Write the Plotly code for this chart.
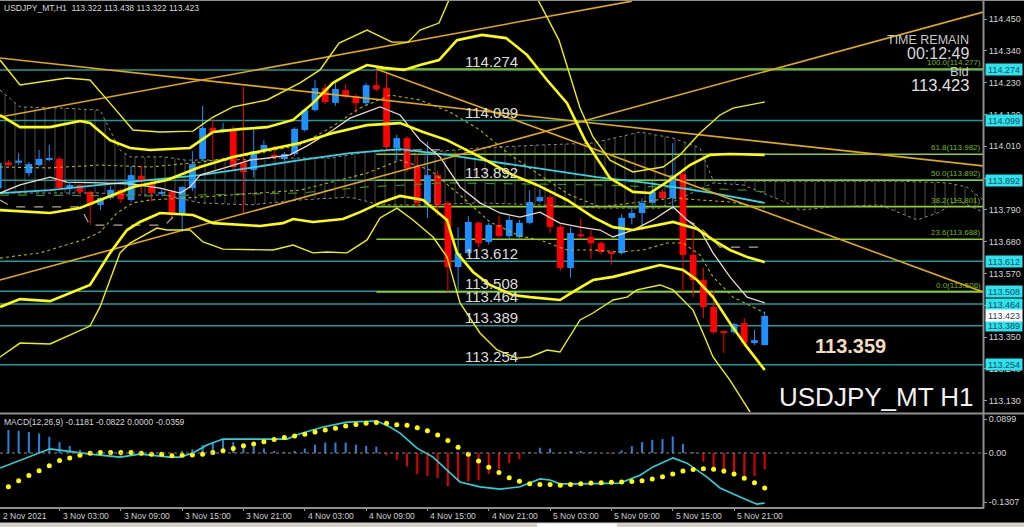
import plotly.graph_objects as go

W, H = 1024, 527

# ---------------- data ----------------
bar_idx = list(range(76))
opens = [113.865, 113.954, 113.953, 113.917, 113.945, 113.963, 113.966, 113.865, 113.876, 113.852,
         113.807, 113.831, 113.859, 113.824, 113.907, 113.883, 113.845, 113.852, 113.772, 113.865,
         113.966, 114.073, 114.063, 114.066, 113.952, 113.928, 113.993, 113.976, 113.966, 113.983,
         114.066, 114.135, 114.211, 114.160, 114.204, 114.183, 114.159, 114.221, 114.211, 114.004,
         114.038, 113.938, 113.814, 113.910, 113.814, 113.592, 113.640, 113.745, 113.679, 113.738,
         113.699, 113.696, 113.745, 113.820, 113.834, 113.731, 113.589, 113.705, 113.696, 113.675,
         113.644, 113.640, 113.762, 113.779, 113.814, 113.852, 113.831, 113.914, 113.634, 113.547,
         113.454, 113.370, 113.367, 113.398, 113.329, 113.322]
highs = [113.960, 113.962, 113.986, 113.955, 113.997, 114.014, 113.972, 113.882, 113.880, 113.855,
         113.835, 113.872, 113.862, 113.942, 113.942, 113.890, 113.860, 113.858, 113.872, 113.993,
         114.149, 114.105, 114.090, 114.080, 114.215, 114.073, 114.030, 114.010, 113.990, 114.075,
         114.140, 114.239, 114.225, 114.232, 114.225, 114.190, 114.228, 114.277, 114.267, 114.050,
         114.045, 113.985, 114.026, 113.925, 113.820, 113.730, 113.768, 113.750, 113.745, 113.770,
         113.768, 113.755, 113.858, 113.862, 113.840, 113.740, 113.730, 113.760, 113.718, 113.680,
         113.648, 113.775, 113.800, 113.830, 113.890, 113.860, 114.021, 113.918, 113.720, 113.590,
         113.510, 113.372, 113.400, 113.416, 113.375, 113.438]
lows = [113.850, 113.940, 113.945, 113.905, 113.940, 113.958, 113.860, 113.841, 113.845, 113.738,
        113.789, 113.825, 113.814, 113.818, 113.845, 113.820, 113.840, 113.755, 113.713, 113.855,
        113.960, 113.966, 114.055, 113.930, 113.779, 113.903, 113.985, 113.965, 113.960, 113.975,
        114.060, 114.130, 114.155, 114.150, 114.175, 114.125, 114.150, 114.200, 113.995, 113.960,
        113.920, 113.800, 113.762, 113.770, 113.506, 113.510, 113.630, 113.660, 113.670, 113.695,
        113.690, 113.690, 113.740, 113.815, 113.710, 113.580, 113.555, 113.690, 113.620, 113.635,
        113.600, 113.635, 113.740, 113.720, 113.805, 113.825, 113.790, 113.506, 113.488, 113.416,
        113.360, 113.295, 113.360, 113.317, 113.322, 113.322]
closes = [113.952, 113.948, 113.960, 113.948, 113.966, 113.968, 113.865, 113.876, 113.852, 113.807,
          113.831, 113.859, 113.827, 113.910, 113.890, 113.848, 113.852, 113.772, 113.869, 113.948,
          114.073, 114.059, 114.068, 113.938, 113.920, 113.993, 114.014, 113.973, 113.983, 114.070,
          114.135, 114.211, 114.163, 114.208, 114.183, 114.159, 114.221, 114.207, 114.007, 114.038,
          113.935, 113.814, 113.910, 113.807, 113.592, 113.640, 113.748, 113.675, 113.738, 113.699,
          113.755, 113.745, 113.817, 113.834, 113.731, 113.589, 113.710, 113.698, 113.675, 113.644,
          113.640, 113.762, 113.779, 113.814, 113.852, 113.831, 113.910, 113.634, 113.547, 113.454,
          113.367, 113.367, 113.395, 113.329, 113.339, 113.423]

xtick_idx = [0, 6, 12, 18, 24, 30, 36, 42, 48, 54, 60, 66, 72]
xtick_labels = ["2 Nov 2021", "3 Nov 03:00", "3 Nov 09:00", "3 Nov 15:00", "3 Nov 21:00",
                "4 Nov 03:00", "4 Nov 09:00", "4 Nov 15:00", "4 Nov 21:00", "5 Nov 03:00",
                "5 Nov 09:00", "5 Nov 15:00", "5 Nov 21:00"]
price_ticks = [114.450, 114.340, 114.230, 114.120, 114.010, 113.900, 113.790,
               113.680, 113.570, 113.460, 113.350, 113.240, 113.130]

level_lines = [114.274, 114.099, 113.892, 113.612, 113.508, 113.464, 113.389, 113.254]
fib_levels = [114.277, 113.982, 113.892, 113.801, 113.688, 113.506]
fib_names = ["100.0", "61.8", "50.0", "38.2", "23.6", "0.0"]
fib_start = 37
bid_price = 113.423
target_text = "113.359"

# trend lines (two end points each)
trend_a_x, trend_a_y = [0.18, 62.0], [114.111, 114.512]
trend_b_x, trend_b_y = [0.18, 96.36], [114.315, 113.942]
trend_c_x, trend_c_y = [0.18, 96.36], [113.547, 114.474]
trend_d_x, trend_d_y = [37.0, 96.36], [114.277, 113.506]

# Bollinger-type bands
bb2_up_x = [0.18, 2.13, 5.07, 8.0, 8.98, 10.94, 12.9, 14.85, 18.77, 21.02, 23.66, 26.3, 28.85, 30.8, 32.76, 34.42,
            36.09, 37.75, 39.71, 41.27, 43.13, 44.89, 47.34, 49.69, 51.74, 53.7, 55.66, 57.42, 59.86, 62.11,
            63.78, 65.73, 67.69, 69.65, 71.6, 75.0]
bb2_up_y = [114.118, 114.076, 114.076, 114.097, 114.090, 114.031, 114.004, 113.997, 114.004, 114.059, 114.069,
            114.076, 114.101, 114.159, 114.229, 114.263, 114.291, 114.281, 114.274, 114.291, 114.308, 114.377,
            114.395, 114.384, 114.326, 114.239, 114.159, 114.031, 113.900, 113.852, 113.848, 113.893, 113.945,
            113.980, 113.983, 113.980]
bb3_up_x = [0.18, 2.13, 6.73, 8.98, 10.94, 13.19, 15.83, 19.06, 21.02, 22.97, 26.3, 29.53, 31.49, 33.35, 36.09,
            38.53, 40.1, 41.27, 43.13, 44.11, 48.12, 52.82, 54.87, 56.05, 56.93, 58.2, 59.86, 62.11, 65.05,
            66.71, 68.67, 70.63, 71.9, 75.0]
bb3_up_y = [114.308, 114.222, 114.246, 114.239, 114.159, 114.066, 114.059, 114.062, 114.111, 114.146, 114.170,
            114.229, 114.274, 114.367, 114.412, 114.370, 114.370, 114.412, 114.436, 114.516, 114.602, 114.516,
            114.377, 114.239, 114.142, 114.042, 113.962, 113.921, 113.938, 113.980, 114.056, 114.118, 114.142,
            114.163]
bb_mid_x = [0.18, 5.07, 8.0, 9.96, 13.19, 16.52, 19.75, 22.97, 29.53, 32.76, 36.09, 39.32, 41.57, 43.91, 47.14,
            50.37, 52.72, 55.66, 58.2, 60.16, 62.11, 66.03, 68.38, 69.94, 71.6, 73.27, 75.0]
bb_mid_y = [113.789, 113.779, 113.796, 113.824, 113.869, 113.893, 113.938, 113.973, 114.021, 114.056, 114.083,
            114.090, 114.059, 114.031, 113.973, 113.910, 113.876, 113.824, 113.765, 113.730, 113.720, 113.748,
            113.724, 113.686, 113.651, 113.627, 113.609]
bb2_lo_x = [0.18, 2.13, 5.07, 7.03, 8.98, 10.94, 12.6, 13.87, 15.83, 19.06, 21.02, 25.62, 27.87, 28.85, 30.8,
            33.74, 35.4, 37.36, 39.32, 41.57, 43.91, 44.89, 46.46, 48.12, 50.37, 52.04, 54.97, 56.24, 58.2,
            60.16, 62.11, 64.76, 67.01, 68.38, 69.94, 71.6, 73.27, 75.0]
bb2_lo_y = [113.454, 113.481, 113.474, 113.502, 113.530, 113.641, 113.720, 113.748, 113.779, 113.772, 113.744,
            113.734, 113.744, 113.758, 113.748, 113.758, 113.782, 113.814, 113.838, 113.824, 113.755, 113.641,
            113.575, 113.530, 113.495, 113.488, 113.478, 113.506, 113.547, 113.558, 113.575, 113.599, 113.582,
            113.547, 113.488, 113.398, 113.315, 113.236]
bb3_lo_x = [0.18, 2.13, 5.07, 7.03, 8.98, 9.96, 11.92, 12.9, 15.54, 16.52, 18.77, 20.04, 21.99, 26.89, 28.85,
            30.8, 32.17, 34.13, 36.09, 37.36, 39.02, 40.59, 42.55, 43.91, 45.19, 47.14, 48.81, 50.76, 52.04,
            53.7, 54.97, 56.93, 58.2, 60.16, 61.53, 62.51, 64.76, 66.03, 67.99, 68.96, 69.94, 71.6, 73.56, 75.0]
bb3_lo_y = [113.281, 113.329, 113.326, 113.357, 113.388, 113.454, 113.641, 113.675, 113.727, 113.720, 113.720,
            113.679, 113.654, 113.651, 113.668, 113.641, 113.644, 113.641, 113.686, 113.762, 113.796, 113.755,
            113.696, 113.627, 113.468, 113.364, 113.305, 113.277, 113.281, 113.305, 113.298, 113.409, 113.433,
            113.478, 113.488, 113.513, 113.530, 113.513, 113.443, 113.364, 113.281, 113.201, 113.091, 112.994]
bb1_up_x = [0.18, 5.07, 9.96, 14.85, 19.75, 24.64, 29.53, 32.47, 35.4, 38.34, 41.27, 44.21, 47.14, 50.08, 53.01,
            55.95, 58.89, 62.11, 66.03, 68.67, 71.6, 75.0]
bb1_up_y = [113.938, 113.935, 113.945, 113.938, 113.955, 113.980, 114.014, 114.073, 114.142, 114.187, 114.170,
            114.128, 114.066, 113.980, 113.910, 113.841, 113.800, 113.814, 113.831, 113.824, 113.817, 113.796]
bb1_lo_x = [0.18, 4.09, 8.3, 9.96, 11.62, 13.19, 14.85, 19.75, 29.53, 36.09, 39.32, 42.25, 45.19, 48.12, 51.06,
            53.01, 55.66, 58.2, 60.84, 63.09, 65.44, 67.01, 68.67, 69.94, 71.9, 75.0]
bb1_lo_y = [113.623, 113.641, 113.686, 113.713, 113.779, 113.814, 113.824, 113.834, 113.858, 113.917, 113.962,
            113.928, 113.841, 113.748, 113.699, 113.686, 113.651, 113.651, 113.644, 113.651, 113.675, 113.675,
            113.634, 113.558, 113.488, 113.433]

# moving averages
ma_fast_x = [0.18, 2.13, 5.07, 6.73, 9.96, 13.19, 15.83, 17.79, 18.77, 19.75, 22.39, 24.64, 26.3, 28.55, 30.22,
             32.76, 34.42, 36.09, 37.36, 39.32, 41.27, 43.23, 45.19, 47.14, 49.1, 51.06, 53.01, 54.97, 56.93,
             58.89, 60.16, 62.11, 64.07, 66.03, 67.4, 68.67, 69.94, 71.6, 73.27, 75.0]
ma_fast_y = [113.848, 113.876, 113.903, 113.886, 113.883, 113.879, 113.865, 113.848, 113.869, 113.910, 113.938,
             113.962, 113.969, 113.980, 114.011, 114.066, 114.107, 114.128, 114.146, 114.118, 114.031, 113.973,
             113.869, 113.814, 113.779, 113.765, 113.782, 113.744, 113.730, 113.720, 113.696, 113.720, 113.755,
             113.800, 113.755, 113.720, 113.641, 113.558, 113.488, 113.468]
ma_slow_x = [0.18, 5.07, 9.96, 14.85, 19.75, 24.64, 29.53, 34.42, 39.32, 43.91, 48.81, 53.7, 58.59, 63.48,
             69.94, 75.0]
ma_slow_y = [113.848, 113.858, 113.876, 113.893, 113.910, 113.935, 113.962, 113.986, 114.000, 113.980, 113.955,
             113.928, 113.903, 113.883, 113.848, 113.814]

# Ichimoku-style cloud / lines
span_a_x = [0.18, 2.13, 6.05, 9.96, 11.92, 12.9, 16.32, 18.28, 22.68, 27.57, 32.47, 37.36, 42.25, 47.14, 53.01,
            58.2, 62.8, 66.03, 68.67, 69.94, 74.54, 80.41, 88.24, 92.84, 94.8, 96.36]
span_a_y = [114.204, 114.146, 114.142, 114.135, 113.997, 113.973, 113.973, 113.962, 113.962, 113.969, 113.969,
            113.997, 113.990, 114.004, 114.014, 114.021, 114.059, 114.038, 114.004, 113.893, 113.889, 113.889,
            113.889, 113.883, 113.869, 113.824]
span_b_x = [0.18, 6.05, 9.96, 12.9, 16.32, 19.75, 24.64, 29.53, 34.42, 37.36, 42.25, 47.14, 53.01, 58.89, 64.76,
            69.94, 72.88, 77.18, 78.45, 81.68, 86.28, 89.9, 92.15, 93.82, 96.36]
span_b_y = [113.848, 113.848, 113.848, 113.841, 113.841, 113.814, 113.807, 113.824, 113.834, 113.807, 113.807,
            113.814, 113.807, 113.796, 113.796, 113.883, 113.876, 113.814, 113.789, 113.800, 113.807, 113.755,
            113.782, 113.824, 113.782]
senkou_x = [0.18, 14.85, 29.53, 36.09, 43.91, 58.89, 73.27, 75.0]
senkou_y = [113.841, 113.838, 113.848, 113.869, 113.883, 113.876, 113.858, 113.852]
kijun_x = [0.18, 1.35, 8.0, 8.98, 16.32, 17.59, None, 40.59, 43.23, None, 67.4, 68.67, 70.63, 74.83]
kijun_y = [113.824, 113.800, 113.800, 113.737, 113.737, 113.782, None, 113.997, 113.997, None, 113.755, 113.730,
           113.661, 113.661]

# MACD pane
macd_idx = list(range(1, 76))
osma = [0.061, 0.059, 0.056, 0.052, 0.043, 0.029, 0.019, 0.008, 0.002, -0.008,
        -0.006, -0.008, 0.002, 0.001, -0.001, 0.001, -0.002, 0.003, 0.010, 0.021,
        0.029, 0.037, 0.029, 0.021, 0.017, 0.012, 0.005, 0.001, 0.005, 0.012,
        0.022, 0.028, 0.028, 0.028, 0.022, 0.019, 0.017, -0.006, -0.018, -0.036,
        -0.056, -0.061, -0.067, -0.088, -0.076, -0.076, -0.072, -0.056, -0.043, -0.027,
        -0.016, 0.002, 0.014, 0.012, 0.001, 0.003, 0.003, 0.001, 0.000, -0.002,
        0.007, 0.018, 0.029, 0.035, 0.037, 0.044, 0.024, 0.002, -0.023, -0.043,
        -0.056, -0.062, -0.061, -0.061, -0.043]
signal = [-0.090, -0.074, -0.060, -0.047, -0.034, -0.020, -0.013, -0.006, -0.001, 0.001,
          0.001, 0.001, 0.001, -0.001, -0.003, -0.003, -0.007, -0.006, -0.005, -0.003,
          0.001, 0.006, 0.012, 0.019, 0.024, 0.030, 0.036, 0.041, 0.045, 0.050,
          0.056, 0.061, 0.066, 0.072, 0.076, 0.079, 0.081, 0.079, 0.075, 0.074,
          0.067, 0.059, 0.048, 0.033, 0.015, -0.003, -0.021, -0.038, -0.052, -0.066,
          -0.075, -0.082, -0.084, -0.084, -0.086, -0.084, -0.082, -0.080, -0.079, -0.078,
          -0.077, -0.076, -0.074, -0.069, -0.063, -0.056, -0.048, -0.044, -0.042, -0.043,
          -0.048, -0.056, -0.067, -0.079, -0.093]
macd_line_x = [0.18, 2.13, 5.07, 6.73, 8.98, 11.92, 13.87, 16.81, 17.79, 19.06, 20.43, 21.99, 23.66, 25.62,
               28.26, 29.53, 31.78, 34.13, 37.06, 38.34, 39.32, 40.98, 42.55, 44.21, 45.19, 47.14, 49.1, 51.06,
               53.01, 53.99, 54.97, 56.93, 60.84, 62.8, 64.07, 66.03, 67.4, 69.36, 70.63, 72.59, 74.25, 75.0]
macd_line_y = [-0.040, -0.019, 0.011, 0.005, -0.003, -0.011, -0.003, -0.011, -0.011, 0.000, 0.021, 0.037,
               0.037, 0.035, 0.037, 0.051, 0.069, 0.082, 0.085, 0.069, 0.053, 0.013, -0.011, -0.053, -0.077,
               -0.090, -0.096, -0.090, -0.069, -0.072, -0.082, -0.082, -0.080, -0.059, -0.037, -0.013, -0.027,
               -0.064, -0.093, -0.117, -0.136, -0.133]
macd_ticks = [0.0899, 0.0, -0.1307]
macd_tick_text = ["0.0899", "0.00", "-0.1307"]
header_text = "USDJPY_MT,H1  113.322 113.438 113.322 113.423"
macd_text = "MACD(12,26,9) -0.1181 -0.0822 0.0000 -0.0359"

# ---------------- layout constants ----------------
FONT = "Liberation Sans"
X_RANGE = [0.176, 96.36]
PLOT_R = 983 / W
def py(p):  # pixel row -> paper y
    return 1 - p / H

fig = go.Figure()
NOHOV = dict(hoverinfo="skip", showlegend=False)

# cloud
fig.add_trace(go.Scatter(x=span_a_x, y=span_a_y, mode="lines",
                         line=dict(color="#8c8c8c", width=1, dash="dot"), **NOHOV))
fig.add_trace(go.Scatter(x=span_b_x, y=span_b_y, mode="lines",
                         line=dict(color="#8c8c8c", width=1, dash="dot"),
                         fill="tonexty", fillcolor="rgba(0,0,0,0)",
                         fillpattern=dict(shape="|", fgcolor="#8a8a8a", bgcolor="rgba(0,0,0,0)",
                                          size=10, solidity=0.1, fgopacity=0.55), **NOHOV))

# candles
BULL, BEAR = "#1E90FF", "#FF0000"
bull = [i for i in bar_idx if closes[i] >= opens[i]]
bear = [i for i in bar_idx if closes[i] < opens[i]]
for ids, col in ((bull, BULL), (bear, BEAR)):
    wx, wy = [], []
    for i in ids:
        wx += [i, i, None]
        wy += [lows[i], highs[i], None]
    fig.add_trace(go.Scatter(x=wx, y=wy, mode="lines", line=dict(color=col, width=1), **NOHOV))
    fig.add_trace(go.Bar(x=ids, y=[max(abs(closes[i] - opens[i]), 0.0035) for i in ids],
                         base=[min(opens[i], closes[i]) for i in ids], width=0.66,
                         marker=dict(color=col, line=dict(width=0)), **NOHOV))

# indicator lines
def line(x, y, color, width, dash="solid"):
    fig.add_trace(go.Scatter(x=x, y=y, mode="lines", line=dict(color=color, width=width, dash=dash),
                             connectgaps=False, **NOHOV))

line(kijun_x, kijun_y, "#b8a896", 1.2, "dash")
line(senkou_x, senkou_y, "#3f8f10", 1.2, "dash")
line(bb1_up_x, bb1_up_y, "#b5b500", 1.1, "dot")
line(bb1_lo_x, bb1_lo_y, "#b5b500", 1.1, "dot")
line(ma_slow_x, ma_slow_y, "#33d6e6", 1.8)
line(ma_fast_x, ma_fast_y, "#ead8cc", 1.3)
GOLD = "#e2a90c"
for tx, ty in ((trend_a_x, trend_a_y), (trend_b_x, trend_b_y), (trend_c_x, trend_c_y), (trend_d_x, trend_d_y)):
    line(tx, ty, GOLD, 1.6)
line(bb3_up_x, bb3_up_y, "#f2f000", 1.4)
line(bb3_lo_x, bb3_lo_y, "#f2f000", 1.4)
line(bb2_up_x, bb2_up_y, "#ffff00", 2.6)
line(bb2_lo_x, bb2_lo_y, "#ffff00", 2.6)
line(bb_mid_x, bb_mid_y, "#ffff00", 2.6)

# MACD pane
pos = [i for i, v in zip(macd_idx, osma) if v >= 0]
posv = [v for v in osma if v >= 0]
neg = [i for i, v in zip(macd_idx, osma) if v < 0]
negv = [v for v in osma if v < 0]
fig.add_trace(go.Bar(x=pos, y=posv, width=0.2, marker=dict(color="#2a80d8", line=dict(width=0)),
                     xaxis="x2", yaxis="y2", **NOHOV))
fig.add_trace(go.Bar(x=neg, y=negv, width=0.2, marker=dict(color="#e00000", line=dict(width=0)),
                     xaxis="x2", yaxis="y2", **NOHOV))
fig.add_trace(go.Scatter(x=macd_line_x, y=macd_line_y, mode="lines", line=dict(color="#27d4dc", width=1.6),
                         xaxis="x2", yaxis="y2", **NOHOV))
fig.add_trace(go.Scatter(x=macd_idx, y=signal, mode="markers", marker=dict(color="#ffff00", size=5),
                         xaxis="x2", yaxis="y2", **NOHOV))

# ---------------- shapes ----------------
shapes = []
for lv in level_lines:
    shapes.append(dict(type="line", xref="paper", x0=0, x1=PLOT_R, yref="y", y0=lv, y1=lv,
                       line=dict(color="#1c9c9c", width=1.5), layer="below"))
for lv in fib_levels:
    shapes.append(dict(type="line", xref="x", x0=fib_start, x1=X_RANGE[1], yref="y", y0=lv, y1=lv,
                       line=dict(color="#8ed21a", width=1.6), layer="below"))
shapes.append(dict(type="line", xref="paper", x0=0, x1=PLOT_R, yref="y2", y0=0, y1=0,
                   line=dict(color="#8a8a8a", width=1, dash="dot")))
# frames
FR = "#8f8f8f"
shapes += [
    dict(type="line", xref="paper", yref="paper", x0=0, x1=1, y0=py(0.5), y1=py(0.5), line=dict(color=FR, width=1)),
    dict(type="line", xref="paper", yref="paper", x0=0, x1=1, y0=py(413.5), y1=py(413.5), line=dict(color=FR, width=2)),
    dict(type="line", xref="paper", yref="paper", x0=0, x1=PLOT_R + 1 / W, y0=py(508), y1=py(508), line=dict(color=FR, width=2)),
    dict(type="line", xref="paper", yref="paper", x0=983.5 / W, x1=983.5 / W, y0=py(0), y1=py(508.5), line=dict(color=FR, width=2)),
    dict(type="rect", xref="paper", yref="paper", x0=0, x1=1, y0=0, y1=py(522.5), fillcolor="#d4d0c8", line=dict(width=0)),
    dict(type="rect", xref="paper", yref="paper", x0=537 / W, x1=617 / W, y0=0, y1=py(523.5), fillcolor="#ffffff", line=dict(width=0)),
]

# ---------------- annotations ----------------
ann = []
def txt(text, x, y, size, color, xanchor="left", yanchor="middle", xref="paper", yref="paper", **kw):
    ann.append(dict(text=text, x=x, y=y, xref=xref, yref=yref, xanchor=xanchor, yanchor=yanchor,
                    showarrow=False, font=dict(family=kw.pop("family", FONT), size=size, color=color), **kw))

txt(header_text, 2 / W, py(8), 8.5, "#d8d8d8")
txt(macd_text, 2 / W, py(422), 8.5, "#d8d8d8")
for lv in level_lines:
    txt(f"{lv:.3f}", 463 / W, lv, 15, "#dcdcdc", yref="y", yshift=8)
for name, lv in zip(fib_names, fib_levels):
    txt(f"{name}({lv:.3f})", 983 / W, lv, 8, "#7ab800", xanchor="right", yanchor="bottom", yref="y")
for lv in level_lines:
    txt(f"{lv:.3f}", 985 / W, lv, 9, "#134a63", yref="y", bgcolor="#2be4ee", width=36, height=11,
        borderpad=0, align="center")
txt(f"{bid_price:.3f}", 985 / W, bid_price, 9, "#404040", yref="y", bgcolor="#ffffff", width=36, height=11,
    borderpad=0, align="center")
txt("TIME REMAIN", 971 / W, py(40), 12.5, "#c8c8c8", xanchor="right")
txt("00:12:49", 971 / W, py(53), 16, "#d8d8d8", xanchor="right")
txt("Bid", 971 / W, py(72), 13, "#c8c8c8", xanchor="right")
txt(f"{bid_price:.3f}", 971 / W, py(85), 16.5, "#e0e0e0", xanchor="right")
txt(f"<b>{target_text}</b>", 850 / W, py(345.5), 20, "#f2ddbe", xanchor="center")
txt("USDJPY_MT H1", 976 / W, py(397), 26, "#f2f2f2", xanchor="right")
for t, lab in zip(xtick_idx, xtick_labels):
    txt(lab, max(t, 0.2), py(516), 8.5, "#d0d0d0", xref="x2", xshift=1)

AX = dict(showgrid=False, zeroline=False, fixedrange=True)
fig.update_layout(
    width=W, height=H, margin=dict(l=0, r=0, t=0, b=0),
    paper_bgcolor="#000000", plot_bgcolor="#000000",
    barmode="overlay", showlegend=False, hovermode=False,
    shapes=shapes, annotations=ann,
    xaxis=dict(domain=[0, PLOT_R], range=X_RANGE, showticklabels=False, ticks="", showline=False, anchor="y", **AX),
    xaxis2=dict(domain=[0, PLOT_R], range=X_RANGE, anchor="y2", tickvals=xtick_idx, ticks="outside", ticklen=3,
                tickcolor="#9a9a9a", showticklabels=False, showline=False, **AX),
    yaxis=dict(domain=[py(412), py(1)], range=[113.0906, 114.5123], side="right", anchor="x",
               tickvals=price_ticks, ticktext=[f"{v:.3f}" for v in price_ticks], ticks="outside", ticklen=3,
               tickcolor="#9a9a9a", tickfont=dict(family=FONT, size=9, color="#d6d6d6"), showline=False, **AX),
    yaxis2=dict(domain=[py(507), py(415)], range=[-0.14362, 0.10106], side="right", anchor="x2",
                tickvals=macd_ticks, ticktext=macd_tick_text, ticks="outside", ticklen=3, tickcolor="#9a9a9a",
                tickfont=dict(family=FONT, size=9, color="#d6d6d6"), showline=False, **AX),
)
fig.write_html("out.html", config={"displayModeBar": False},
               post_script="document.body.style.margin='0';document.body.style.overflow='hidden';")
